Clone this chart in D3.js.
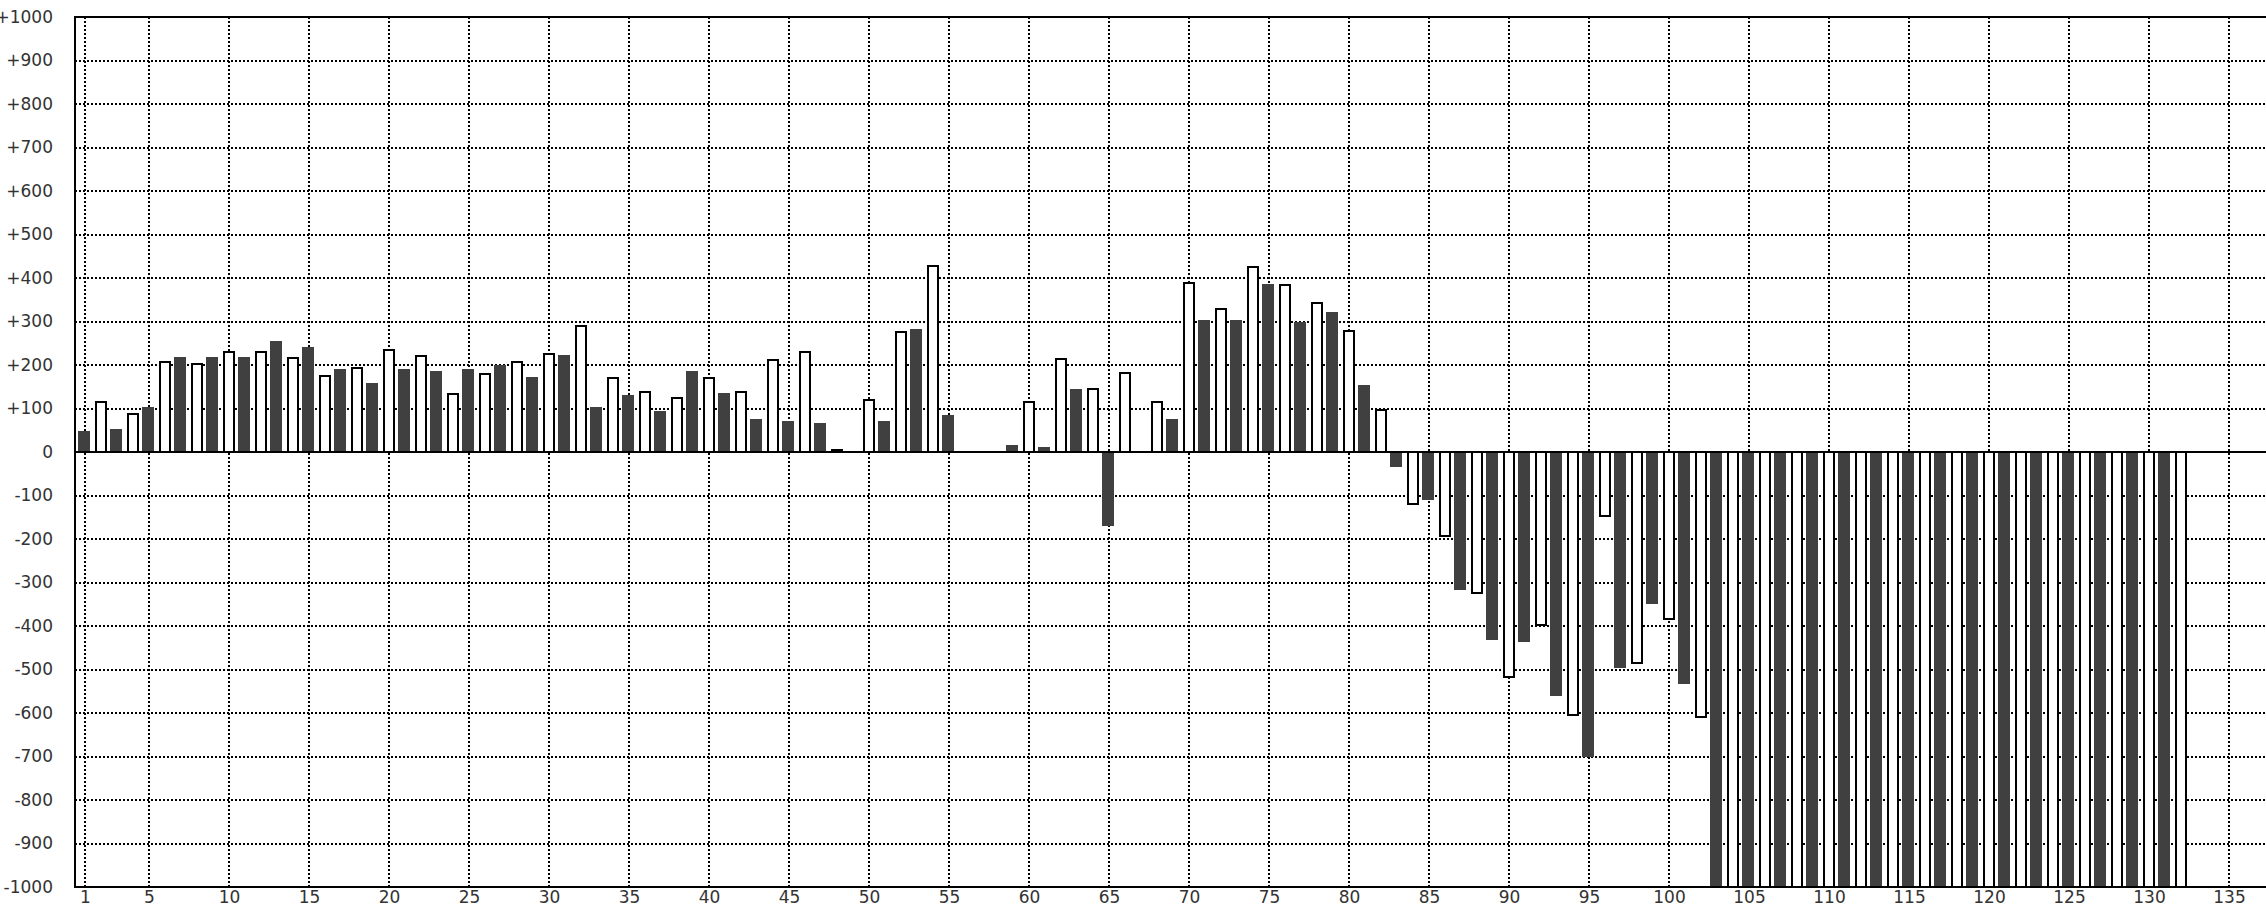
<!DOCTYPE html>
<html>
<head>
<meta charset="utf-8">
<script src="https://cdn.jsdelivr.net/npm/d3@7"></script>
<style>
  html, body { margin: 0; padding: 0; background: #fff; }
  svg { display: block; }
  text { font-family: "DejaVu Sans", sans-serif; }
</style>
</head>
<body>
<svg id="chart" width="2266" height="908"></svg>
<script>
// ---- data ----
// odd positions 1,3,5,...,131 (dark filled bars)
const darkPositions = d3.range(1, 132, 2);
const darkValues = [
  48, 53, 103, 218, 218, 218, 255, 241, 191, 159,
  191, 186, 191, 200, 172, 223, 103, 131, 94, 186,
  136, 76, 71, 67, null, 71, 283, 85, null, 15,
  11, 145, -170, null, 76, 303, 303, 386, 298, 321,
  154, -34, -111, -318, -432, -437, -560, -702, -496, -350,
  -533, -1000, -1000, -1000, -1000, -1000, -1000, -1000, -1000, -1000,
  -1000, -1000, -1000, -1000, -1000, -1000
];
// even positions 2,4,6,...,132 (white outlined bars)
const whitePositions = d3.range(2, 133, 2);
const whiteValues = [
  116, 88, 208, 203, 231, 231, 217, 175, 194, 235,
  221, 134, 180, 208, 226, 290, 171, 139, 125, 171,
  139, 212, 231, 5, 120, 277, 428, null, null, 116,
  213, 144, 181, 116, 389, 329, 426, 385, 343, 278,
  97, -119, -192, -325, -518, -398, -605, -147, -485, -385,
  -609, -1000, -1000, -1000, -1000, -1000, -1000, -1000, -1000, -1000,
  -1000, -1000, -1000, -1000, -1000, -1000
];
const xTickValues = [1, 5, 10, 15, 20, 25, 30, 35, 40, 45, 50, 55, 60, 65, 70, 75, 80, 85, 90, 95, 100, 105, 110, 115, 120, 125, 130, 135];
const yTickValues = [-1000, -900, -800, -700, -600, -500, -400, -300, -200, -100, 0, 100, 200, 300, 400, 500, 600, 700, 800, 900, 1000];

// ---- layout ----
const W = 2266, H = 908;
const svg = d3.select("#chart");
const x = d3.scaleLinear().domain([1, 135]).range([85, 2229]);
const y = d3.scaleLinear().domain([-1000, 1000]).range([887, 17]);
const plotLeft = 75, plotRight = W, plotTop = y(1000), plotBottom = y(-1000);

const grid = svg.append("g").attr("stroke", "#000").attr("stroke-width", 2)
  .attr("stroke-dasharray", "2,2").attr("shape-rendering", "crispEdges");
grid.selectAll("line.v").data(xTickValues).join("line").attr("class", "v")
  .attr("x1", d => x(d)).attr("x2", d => x(d))
  .attr("y1", plotTop).attr("y2", plotBottom);
grid.selectAll("line.h").data(yTickValues.filter(v => Math.abs(v) !== 1000 && v !== 0)).join("line").attr("class", "h")
  .attr("x1", plotLeft).attr("x2", plotRight)
  .attr("y1", d => y(d)).attr("y2", d => y(d));

const dark = darkPositions.map((p, i) => ({ p, v: darkValues[i] })).filter(d => d.v !== null);
const white = whitePositions.map((p, i) => ({ p, v: whiteValues[i] })).filter(d => d.v !== null);

svg.append("g").attr("shape-rendering", "crispEdges")
  .selectAll("rect").data(white).join("rect")
  .attr("x", d => x(d.p) - 5)
  .attr("width", 10)
  .attr("y", d => Math.min(y(d.v), y(0)))
  .attr("height", d => Math.abs(y(d.v) - y(0)))
  .attr("fill", "#fff").attr("stroke", "#000").attr("stroke-width", 2);

svg.append("g").attr("shape-rendering", "crispEdges")
  .selectAll("rect").data(dark).join("rect")
  .attr("x", d => x(d.p) - 7)
  .attr("width", 12)
  .attr("y", d => Math.min(y(d.v), y(0)))
  .attr("height", d => Math.abs(y(d.v) - y(0)))
  .attr("fill", "#404040");

// zero line and frame
const frame = svg.append("g").attr("stroke", "#000").attr("stroke-width", 2).attr("shape-rendering", "crispEdges");
frame.append("line").attr("x1", plotLeft).attr("x2", plotRight).attr("y1", y(0)).attr("y2", y(0));
frame.append("line").attr("x1", plotLeft).attr("x2", plotRight).attr("y1", plotTop).attr("y2", plotTop);
frame.append("line").attr("x1", plotLeft).attr("x2", plotRight).attr("y1", plotBottom).attr("y2", plotBottom);
frame.append("line").attr("x1", plotLeft).attr("x2", plotLeft).attr("y1", plotTop - 1).attr("y2", plotBottom + 1);

// y axis labels
const yAxis = d3.axisLeft(y).tickValues(yTickValues).tickSize(0).tickPadding(0)
  .tickFormat(d => d > 0 ? "+" + d : (d === 0 ? "0" : "-" + Math.abs(d)));
const gy = svg.append("g").attr("transform", "translate(53,0)").call(yAxis);
gy.select(".domain").remove();
gy.selectAll("text").attr("font-family", "DejaVu Sans, sans-serif").attr("font-size", 17)
  .attr("fill", "#333").attr("x", 0).attr("dy", "0.32em").attr("text-anchor", "end");

// x axis labels
const xAxis = d3.axisBottom(x).tickValues(xTickValues).tickSize(0).tickPadding(0).tickFormat(d => String(d));
const gx = svg.append("g").attr("transform", "translate(0,889)").call(xAxis);
gx.select(".domain").remove();
gx.selectAll("text").attr("font-family", "DejaVu Sans, sans-serif").attr("font-size", 17)
  .attr("fill", "#333").attr("y", 14).attr("dy", "0");
</script>
</body>
</html>
